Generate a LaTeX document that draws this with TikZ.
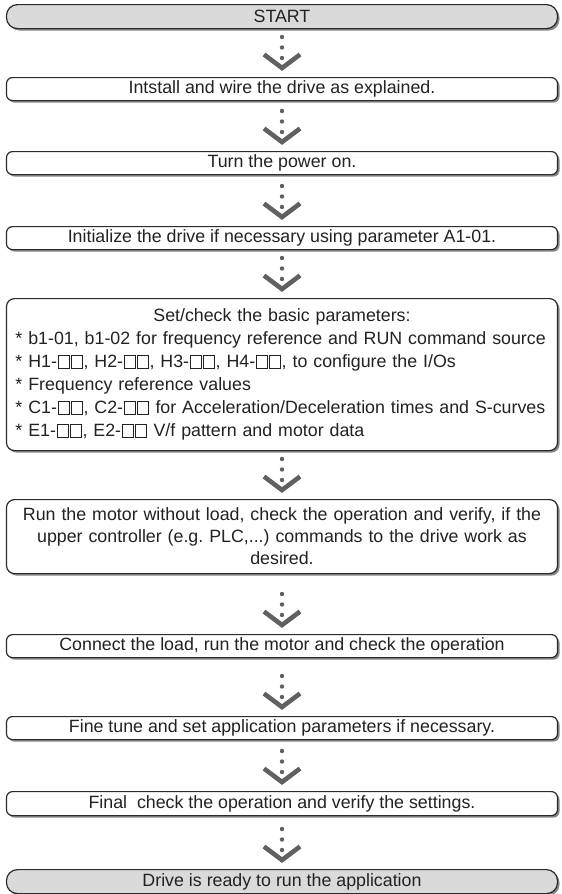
\documentclass[tikz,border=0pt]{standalone}
\usepackage{fontspec}
\setmainfont{Liberation Sans}
\usetikzlibrary{calc,shadows}
\definecolor{boxline}{HTML}{2B2B2B}
\definecolor{shadowcol}{HTML}{858585}
\definecolor{endfill}{HTML}{DADADA}
\definecolor{conncol}{HTML}{606060}
\definecolor{txtcol}{HTML}{222222}
\newcommand{\sqb}{\kern0.04em{\fboxsep=0pt\fboxrule=0.75pt\fbox{\rule{0pt}{0.66em}\rule{0.58em}{0pt}}}\kern0.04em}
\newcommand{\flowlink}[2]{%
  \path (#1.south);
  \fill[conncol] ($(#2.north)+(0,-40)$) circle (2.2pt)
                 ($(#2.north)+(0,-29.5)$) circle (2.2pt)
                 ($(#2.north)+(0,-19)$) circle (2.2pt);
  \draw[chev] ($(#2.north)+(-18,-22.5)$) -- ($(#2.north)+(0,-9)$) -- ($(#2.north)+(18,-22.5)$);
}
\begin{document}
\frenchspacing
\begin{tikzpicture}[x=1pt,y=-1pt,
  box/.style={draw=boxline, line width=1.2pt, rounded corners=6pt, fill=white,
    minimum width=551pt, minimum height=23pt, inner sep=0pt, anchor=north,
    text=txtcol, font=\fontsize{17.8}{22}\selectfont\frenchspacing, align=center,
    drop shadow={shadow xshift=2pt, shadow yshift=-2pt, fill=shadowcol, opacity=1}},
  endbox/.style={box, fill=endfill, rounded corners=11pt, minimum height=24pt},
  chev/.style={draw=conncol, line width=4.6pt, line cap=butt, line join=miter}]
\useasboundingbox (0,0) rectangle (562,894);
\node[endbox] (start) at (282,4) {START};
\node[box] (b2) at (282,77) {Intstall and wire the drive as explained.};
\node[box] (b3) at (282,151) {Turn the power on.};
\node[box] (b4) at (282,226) {Initialize the drive if necessary using parameter A1-01.};
\node[box, rounded corners=8pt, minimum height=152pt, text width=533pt, align=left,
      font=\fontsize{17.8}{23}\selectfont\frenchspacing] (b5) at (282,298)
  {\makebox[533pt][c]{Set/check the basic parameters:}\\
   \mbox{* b1-01, b1-02 for frequency reference and RUN command source}\\
   \mbox{* H1-\sqb\sqb, H2-\sqb\sqb, H3-\sqb\sqb, H4-\sqb\sqb, to configure the I/Os}\\
   \mbox{* Frequency reference values}\\
   \mbox{* C1-\sqb\sqb, C2-\sqb\sqb\ for Acceleration/Deceleration times and S-curves}\\
   \mbox{* E1-\sqb\sqb, E2-\sqb\sqb\ V/f pattern and motor data}};
\node[box, rounded corners=8pt, minimum height=74pt, text width=530pt] (b6) at (282,499)
  {Run the motor without load, check the operation and verify, if the\\
   upper controller (e.g. PLC,...) commands to the drive work as\\
   desired.};
\node[box] (b7) at (282,634) {Connect the load, run the motor and check the operation};
\node[box] (b8) at (282,716) {Fine tune and set application parameters if necessary.};
\node[box, minimum height=24pt] (b9) at (282,791) {Final\ \ check the operation and verify the settings.};
\node[endbox] (b10) at (282,869) {Drive is ready to run the application};
\flowlink{start}{b2}
\flowlink{b2}{b3}
\flowlink{b3}{b4}
\flowlink{b4}{b5}
\flowlink{b5}{b6}
\flowlink{b6}{b7}
\flowlink{b7}{b8}
\flowlink{b8}{b9}
\flowlink{b9}{b10}
\end{tikzpicture}
\end{document}
